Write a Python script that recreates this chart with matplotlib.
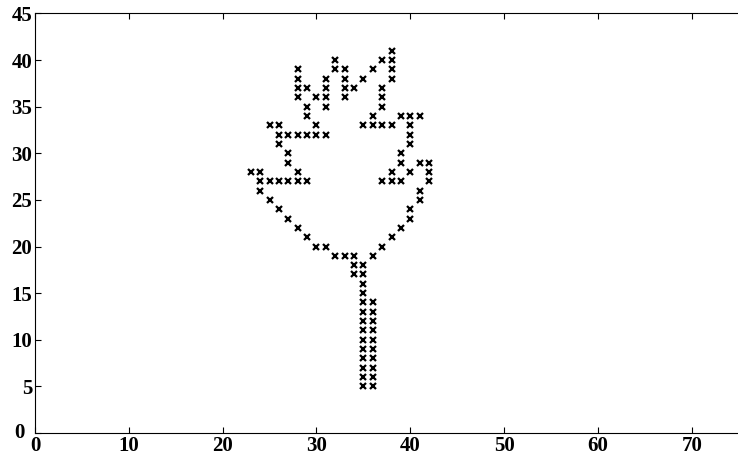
import matplotlib
matplotlib.use("Agg")
import matplotlib.pyplot as plt
import matplotlib.transforms as mtransforms

# Grid points of the tree figure: one list of x positions per row y
rows = {
    41: [38],
    40: [32, 37, 38],
    39: [28, 32, 33, 36, 38],
    38: [28, 31, 33, 35, 38],
    37: [28, 29, 31, 33, 34, 37],
    36: [28, 30, 31, 33, 37],
    35: [29, 31, 37],
    34: [29, 36, 39, 40, 41],
    33: [25, 26, 30, 35, 36, 37, 38, 40],
    32: [26, 27, 28, 29, 30, 31, 40],
    31: [26, 40],
    30: [27, 39],
    29: [27, 39, 41, 42],
    28: [23, 24, 28, 38, 40, 42],
    27: [24, 25, 26, 27, 28, 29, 37, 38, 39, 42],
    26: [24, 41],
    25: [25, 41],
    24: [26, 40],
    23: [27, 40],
    22: [28, 39],
    21: [29, 38],
    20: [30, 31, 37],
    19: [32, 33, 34, 36],
    18: [34, 35],
    17: [34, 35],
    16: [35],
    15: [35],
    14: [35, 36],
    13: [35, 36],
    12: [35, 36],
    11: [35, 36],
    10: [35, 36],
    9: [35, 36],
    8: [35, 36],
    7: [35, 36],
    6: [35, 36],
    5: [35, 36],
}

xs = [x for y, row in rows.items() for x in row]
ys = [y for y, row in rows.items() for x in row]

x_ticks = [0, 10, 20, 30, 40, 50, 60, 70]
y_ticks = [0, 5, 10, 15, 20, 25, 30, 35, 40, 45]

plt.rcParams['font.family'] = ['Liberation Serif', 'DejaVu Serif']

fig = plt.figure(figsize=(7.38, 4.63), dpi=100)
ax = fig.add_axes([0.0474, 0.0648, 0.9535, 0.9063])

ax.plot(xs, ys, linestyle='none', marker='x', color='black',
        markersize=5, markeredgewidth=1.6)

ax.set_xlim(0, 75)
ax.set_ylim(0, 45)
ax.set_xticks(x_ticks)
ax.set_yticks(y_ticks)
ax.tick_params(direction='in', length=4, width=0.8, top=True, right=False,
               labelsize=15, pad=2)
for lab in ax.get_xticklabels() + ax.get_yticklabels():
    lab.set_fontweight('bold')

# keep the two "0" labels at the origin apart
zero_label = ax.get_yticklabels()[0]
zero_label.set_transform(zero_label.get_transform() +
                         mtransforms.ScaledTranslation(-8 / 100, 2 / 100,
                                                       fig.dpi_scale_trans))

ax.spines['right'].set_visible(False)
for s in ('left', 'bottom', 'top'):
    ax.spines[s].set_linewidth(0.8)

fig.savefig('out.png', dpi=100)
